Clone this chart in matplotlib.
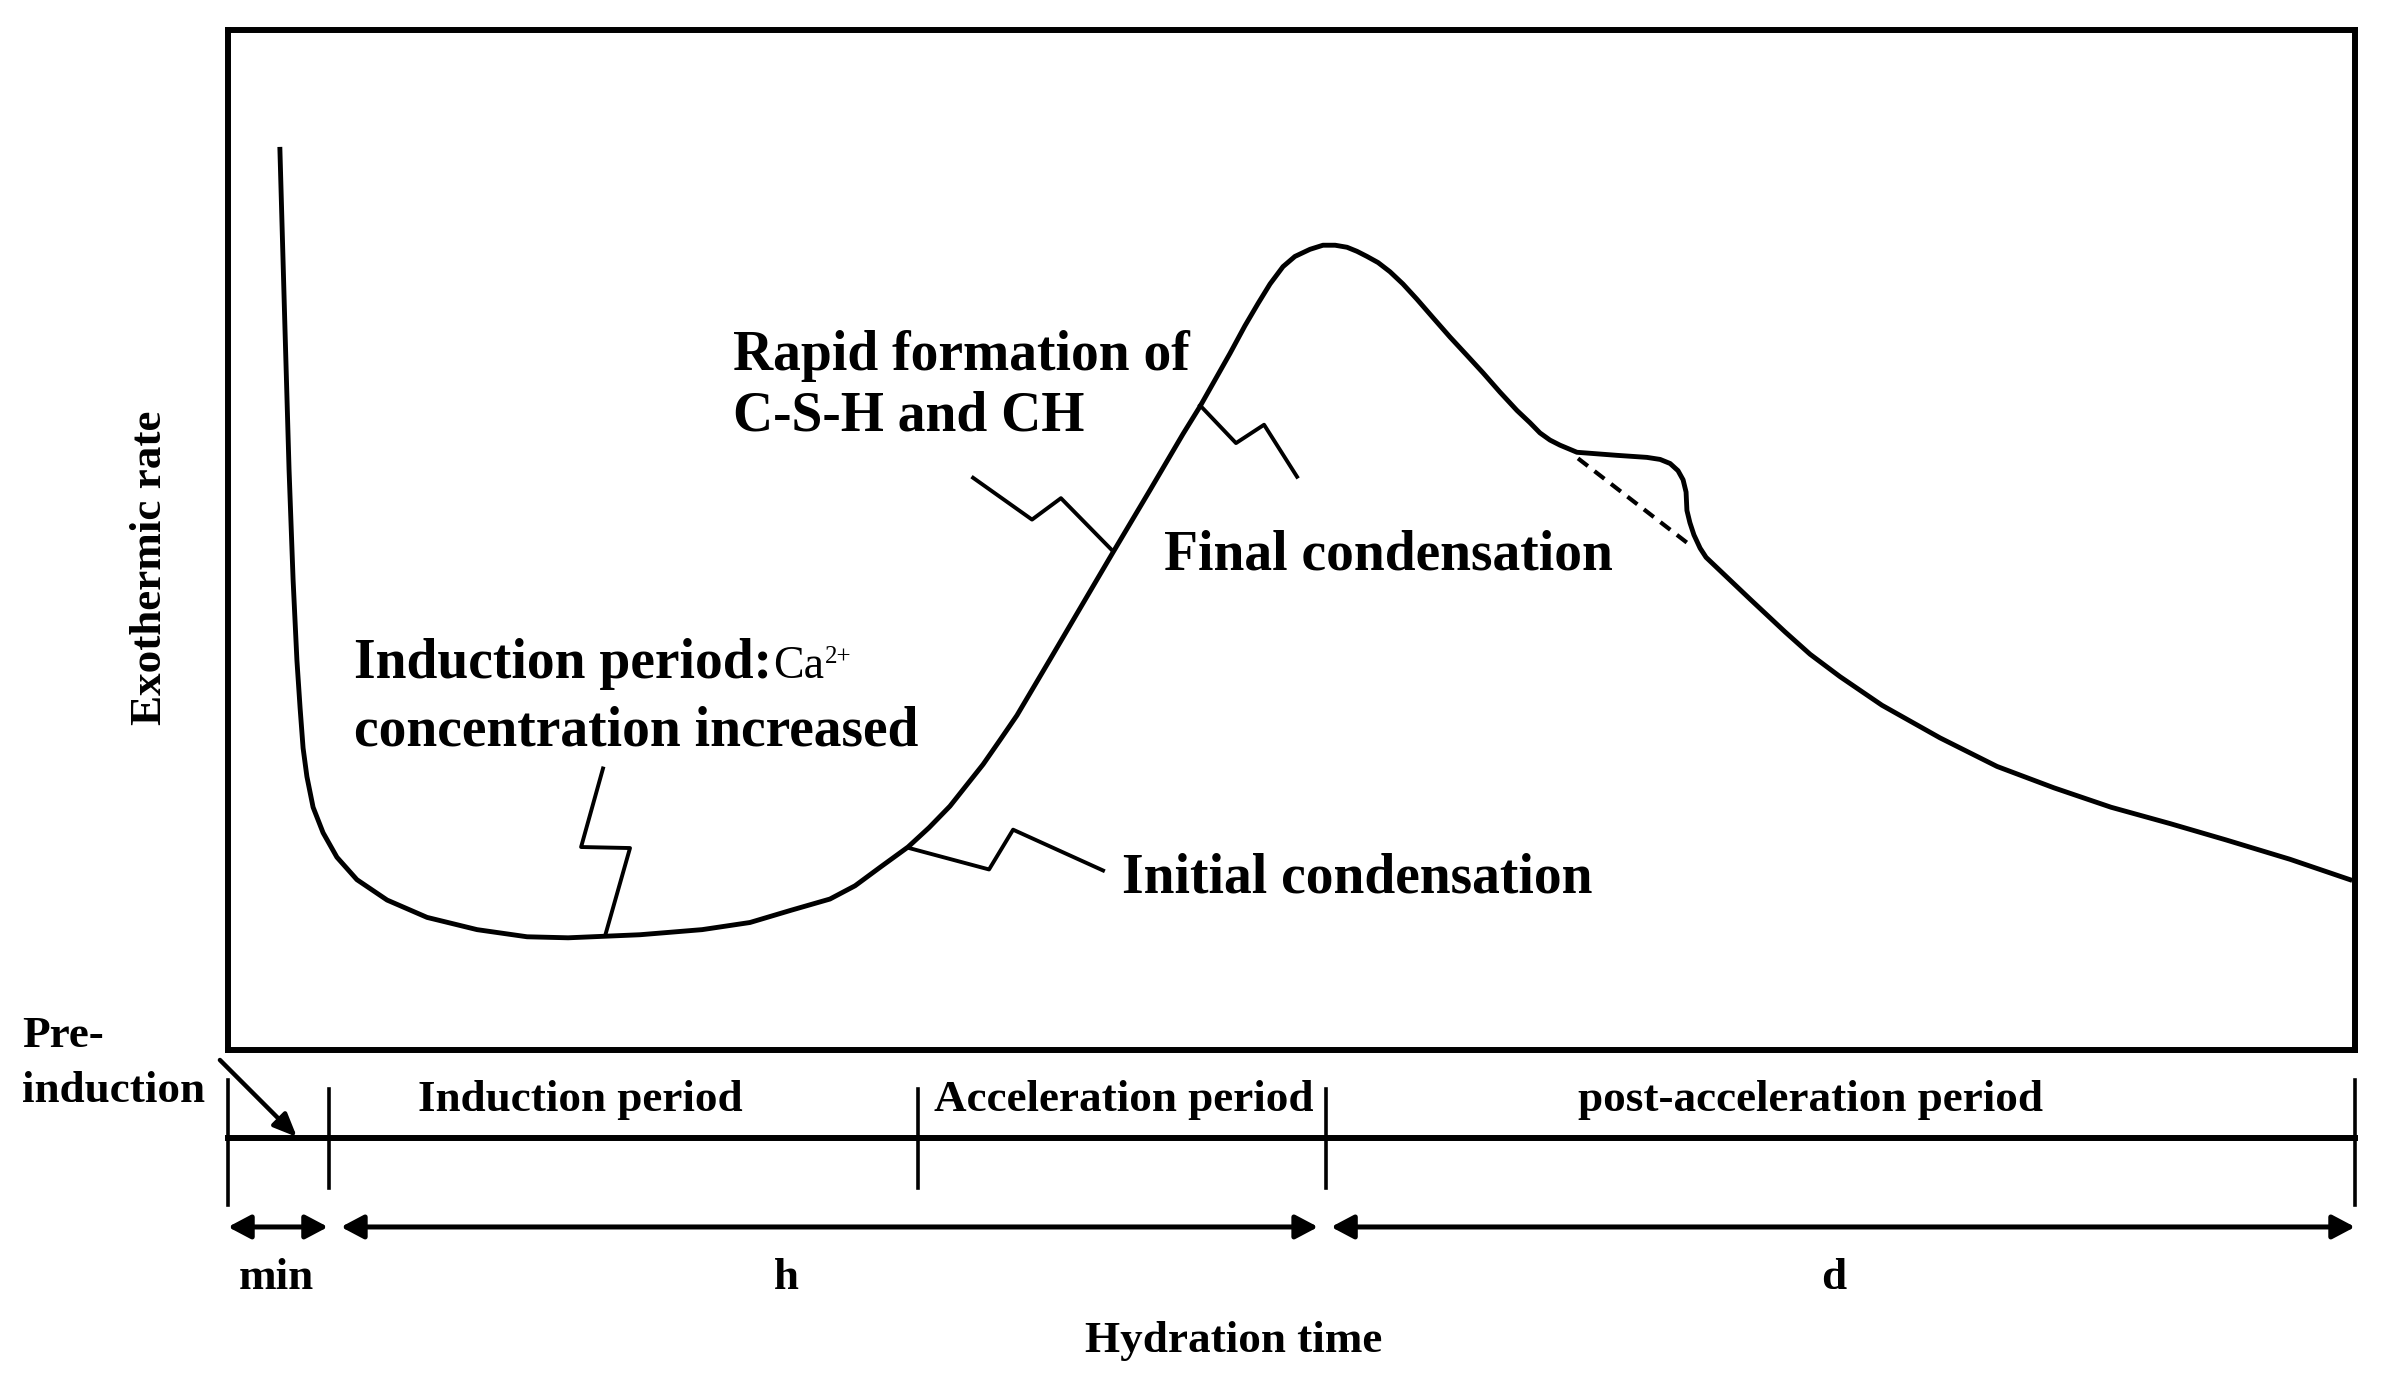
import numpy as np
import matplotlib
matplotlib.use('Agg')
import matplotlib.pyplot as plt

plt.rcParams['font.family'] = ['Liberation Serif', 'DejaVu Serif']

# heat flow curve (arbitrary units)
t = [2.44, 2.68, 2.87, 3.06, 3.24, 3.39, 3.53, 3.71, 4.00, 4.47, 5.12, 6.06,
     7.48, 9.36, 11.71, 14.06, 15.99, 19.37, 22.29, 24.54, 26.47, 28.30,
     29.48, 30.65, 31.97, 32.96, 33.94, 34.70, 35.50, 36.30, 37.09, 38.65,
     40.20, 41.61, 43.35, 44.90, 45.70, 47.11, 47.81, 48.43, 48.99, 49.60,
     50.16, 50.87, 51.48, 52.05, 52.61, 53.08, 53.55, 54.07, 54.63, 55.24,
     55.90, 56.65, 57.45, 58.25, 59.00, 59.80, 60.60, 61.21, 61.68, 62.15,
     62.62, 63.42, 65.30, 66.71, 67.33, 67.80, 68.17, 68.41, 68.55, 68.59,
     68.73, 68.92, 69.21, 69.49, 71.56, 73.20, 74.38, 75.79, 77.76, 80.49,
     83.17, 85.85, 88.53, 91.30, 93.93, 96.94, 99.76]
rate = [88.3, 70.6, 56.9, 46.1, 38.2, 33.5, 29.6, 26.8, 23.8, 21.3, 18.9, 16.7,
        14.7, 13.0, 11.8, 11.1, 11.0, 11.3, 11.8, 12.5, 13.7, 14.8,
        16.1, 17.9, 19.9, 21.8, 23.9, 25.9, 28.0, 30.4, 32.8, 38.3,
        43.8, 48.8, 54.9, 60.4, 63.1, 68.3, 71.0, 73.2, 75.1, 76.8,
        77.8, 78.5, 78.9, 78.9, 78.7, 78.3, 77.8, 77.2, 76.3, 75.1,
        73.6, 71.8, 69.9, 68.1, 66.4, 64.5, 62.7, 61.5, 60.5, 59.8,
        59.3, 58.6, 58.3, 58.1, 57.9, 57.5, 56.8, 55.9, 54.7, 52.9,
        51.7, 50.5, 49.2, 48.3, 44.2, 41.0, 38.8, 36.6, 33.8, 30.6,
        27.8, 25.7, 23.8, 22.2, 20.6, 18.7, 16.7]

# baseline under the shoulder (dashed)
dash_t = [63.47, 68.74]
dash_rate = [58.0, 49.5]

# zig-zag leaders
lead_induction = ([17.63, 16.60, 18.90, 17.77], [27.6, 19.9, 19.8, 11.5])
lead_initial = ([32.02, 35.78, 36.91, 41.14], [19.8, 17.7, 21.6, 17.6])
lead_rapid = ([35.03, 37.80, 39.16, 41.56], [56.1, 52.0, 54.1, 49.0])
lead_final = ([45.70, 47.39, 48.71, 50.26], [63.2, 59.5, 61.3, 56.2])

# time line below the plot
bounds = [0, 4.75, 32.44, 51.62, 100]
period_labels = ['Induction period', 'Acceleration period', 'post-acceleration period']
period_x = [16.55, 42.13, 74.42]
unit_spans = [(0, 4.70), (5.31, 51.25), (51.86, 100)]
unit_labels = ['min', 'h', 'd']
unit_x = [2.26, 26.23, 75.5]

fig = plt.figure(figsize=(23.84, 13.84), dpi=100)
ax = fig.add_axes([0.09564, 0.24133, 0.89220, 0.73699])
ax.set_xlim(0, 100)
ax.set_ylim(0, 100)
ax.set_xticks([])
ax.set_yticks([])
for s in ax.spines.values():
    s.set_linewidth(4.3)

ax.plot(t, rate, color='k', lw=3.5, solid_joinstyle='round')
ax.plot(dash_t, dash_rate, color='k', lw=3.0, ls=(0, (3, 2)))
for lx, ly in [lead_induction, lead_initial, lead_rapid, lead_final]:
    ax.plot(lx, ly, color='k', lw=2.8)

bold = dict(fontsize=40, fontweight='bold', va='baseline', ha='left')
ax.text(23.74, 66.67, 'Rapid formation of', **bold)
ax.text(23.74, 60.78, 'C-S-H and CH', **bold)
ax.text(44.01, 47.06, 'Final condensation', **bold)
ax.text(42.03, 15.49, 'Initial condensation', **bold)
ax.text(5.92, 36.47, 'Induction period:', **bold)
ax.text(25.62, 36.47, 'Ca', fontsize=33, va='baseline', ha='left')
ax.text(28.07, 37.94, '2+', fontsize=18, va='baseline', ha='left')
ax.text(5.92, 29.9, 'concentration increased', **bold)

ax.text(-3.67, 47.25, 'Exothermic rate', fontsize=32.5, fontweight='bold',
        rotation=90, ha='center', va='center', clip_on=False)

# time line
y_line = -8.63
ax.plot([0, 100], [y_line, y_line], color='k', lw=4.3, clip_on=False)
for i, b in enumerate(bounds):
    if i == 0 or i == len(bounds) - 1:
        ax.plot([b, b], [-2.9, -15.2], color='k', lw=2.6, clip_on=False)
    else:
        ax.plot([b, b], [-3.8, -13.5], color='k', lw=2.6, clip_on=False)

small = dict(fontsize=32.5, fontweight='bold', va='baseline')
for lab, x in zip(period_labels, period_x):
    ax.text(x, -6.0, lab, ha='center', **small)
ax.text(-9.69, 0.29, 'Pre-', ha='left', **small)
ax.text(-9.69, -5.10, 'induction', ha='left', **small)
ax.annotate('', xy=(3.24, -8.53), xytext=(-0.38, -0.98),
            arrowprops=dict(arrowstyle='-|>,head_length=0.7,head_width=0.3',
                            color='k', lw=3.2, shrinkA=0, shrinkB=0,
                            mutation_scale=20), annotation_clip=False)

y_arrow = -17.35
for (a, b), lab, x in zip(unit_spans, unit_labels, unit_x):
    ax.annotate('', xy=(b, y_arrow), xytext=(a, y_arrow),
                arrowprops=dict(arrowstyle='<|-|>,head_length=0.68,head_width=0.36',
                                color='k', lw=3.6, shrinkA=0, shrinkB=0,
                                mutation_scale=20), annotation_clip=False)
    ax.text(x, -23.4, lab, ha='center', **small)

ax.text(47.30, -29.6, 'Hydration time', ha='center', **small)

fig.savefig('out.png', dpi=100)
